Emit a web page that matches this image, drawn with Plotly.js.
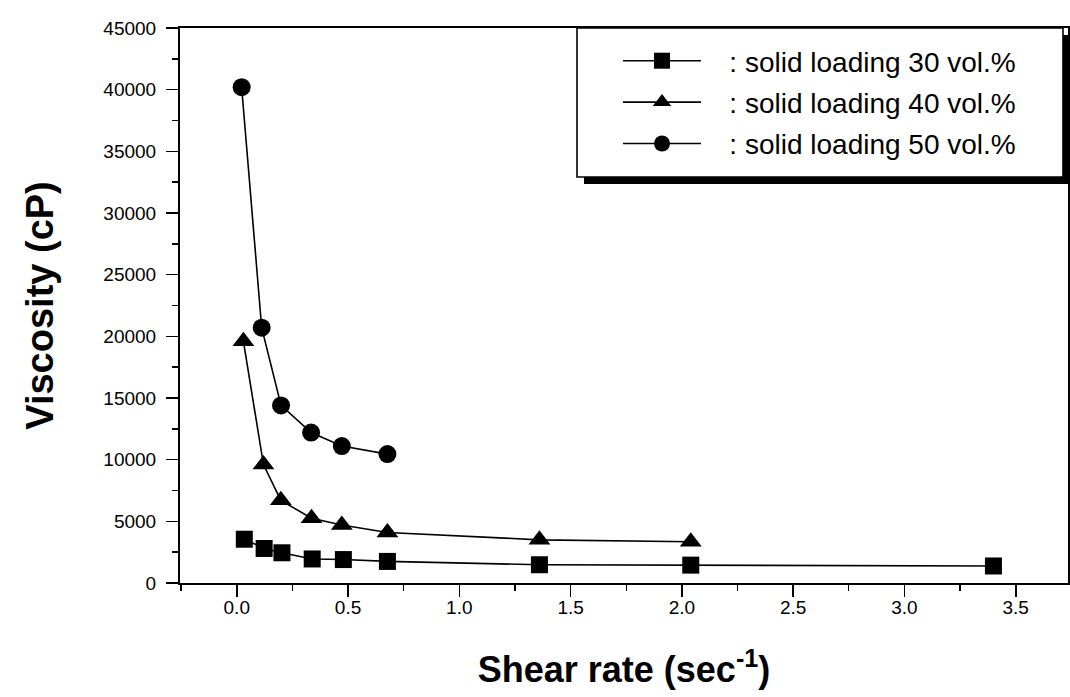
<!DOCTYPE html>
<html>
<head>
<meta charset="utf-8">
<script src="https://cdn.plot.ly/plotly-3.0.1.min.js"></script>
<style>
  html, body { margin: 0; padding: 0; background: #ffffff; }
  #chart { width: 1070px; height: 697px; }
</style>
</head>
<body>
<div id="chart"></div>
<script>
// Shear rate (sec^-1) and viscosity (cP)
const shear30 = [0.034, 0.123, 0.203, 0.339, 0.479, 0.677, 1.36, 2.04, 3.40];
const visc30  = [3550, 2800, 2450, 1950, 1900, 1750, 1480, 1450, 1380];

const shear40 = [0.030, 0.120, 0.198, 0.336, 0.472, 0.677, 1.36, 2.04];
const visc40  = [19600, 9600, 6700, 5250, 4700, 4100, 3500, 3350];

const shear50 = [0.022, 0.112, 0.199, 0.334, 0.472, 0.677];
const visc50  = [40200, 20700, 14400, 12200, 11100, 10450];

const seriesNames = [
  "\u00A0\u00A0\u00A0: solid loading 30 vol.%",
  "\u00A0\u00A0\u00A0: solid loading 40 vol.%",
  "\u00A0\u00A0\u00A0: solid loading 50 vol.%"
];

const xTickVals = [0.0, 0.5, 1.0, 1.5, 2.0, 2.5, 3.0, 3.5];
const xTickText = ["0.0", "0.5", "1.0", "1.5", "2.0", "2.5", "3.0", "3.5"];
const yTickVals = [0, 5000, 10000, 15000, 20000, 25000, 30000, 35000, 40000, 45000];
const yTickText = ["0", "5000", "10000", "15000", "20000", "25000", "30000", "35000", "40000", "45000"];

const FONT = "Liberation Sans, Arial, Helvetica, sans-serif";

const lineStyle = { color: "#000000", width: 1.6 };

const traces = [
  {
    x: shear30, y: visc30, name: seriesNames[0], type: "scatter", mode: "lines+markers",
    legendgroup: "g30",
    line: lineStyle,
    marker: { symbol: "square", size: 17, color: "#000000" }
  },
  {
    x: shear40, y: visc40, name: seriesNames[1], type: "scatter", mode: "lines+markers",
    legendgroup: "g40",
    line: lineStyle,
    marker: { symbol: "triangle-up", size: 19, color: "#000000" }
  },
  {
    x: shear50, y: visc50, name: seriesNames[2], type: "scatter", mode: "lines+markers",
    legendgroup: "g50",
    line: lineStyle,
    marker: { symbol: "circle", size: 18, color: "#000000" }
  }
];

// plot-area pixel frame used to convert legend box placement to paper coords
const L = 180, R = 2, T = 28, B = 114, W = 1070, H = 697;
const pw = W - L - R, ph = H - T - B;
const px = v => (v - L) / pw;
const py = v => (H - B - v) / ph;

const layout = {
  width: W, height: H,
  margin: { l: L, r: R, t: T, b: B },
  paper_bgcolor: "#ffffff",
  plot_bgcolor: "#ffffff",
  font: { family: FONT, color: "#000000", size: 19 },
  showlegend: true,
  legend: {
    x: px(618), y: py(36), xanchor: "left", yanchor: "top",
    bgcolor: "rgba(0,0,0,0)",
    borderwidth: 0,
    font: { family: FONT, size: 28, color: "#000000" },
    traceorder: "grouped",
    tracegroupgap: 2,
    itemwidth: 78
  },
  xaxis: {
    range: [-0.255, 3.735],
    tickvals: xTickVals, ticktext: xTickText,
    ticks: "outside", ticklen: 12, tickwidth: 1.6, tickcolor: "#000000",
    minor: { dtick: 0.25, tick0: 0, ticks: "outside", ticklen: 6, tickwidth: 1.4, tickcolor: "#000000", showgrid: false },
    showline: true, linecolor: "#000000", linewidth: 2, mirror: true,
    showgrid: false, zeroline: false,
    tickfont: { family: FONT, size: 19, color: "#000000" },
    ticklabelstandoff: -6,
    title: { text: "<b>Shear rate (sec<sup>-1</sup>)</b>", font: { family: FONT, size: 36, color: "#000000" }, standoff: 40 },
    automargin: false
  },
  yaxis: {
    range: [0, 45000],
    tickvals: yTickVals, ticktext: yTickText,
    ticks: "outside", ticklen: 12, tickwidth: 1.6, tickcolor: "#000000",
    minor: { dtick: 2500, tick0: 0, ticks: "outside", ticklen: 6, tickwidth: 1.4, tickcolor: "#000000", showgrid: false },
    showline: true, linecolor: "#000000", linewidth: 2, mirror: true,
    showgrid: false, zeroline: false,
    tickfont: { family: FONT, size: 19, color: "#000000" },
    ticklabelstandoff: 6,
    title: { text: "<b>Viscosity (cP)</b>", font: { family: FONT, size: 38, color: "#000000" }, standoff: 38 },
    automargin: false
  },
  shapes: [
    // legend box shadow
    { type: "rect", xref: "paper", yref: "paper", layer: "above",
      x0: px(584), x1: px(1070), y0: py(35), y1: py(184),
      fillcolor: "#000000", line: { width: 0 } },
    // legend box
    { type: "rect", xref: "paper", yref: "paper", layer: "above",
      x0: px(577), x1: px(1063), y0: py(28), y1: py(177),
      fillcolor: "#ffffff", line: { color: "#000000", width: 1.6 } }
  ]
};

Plotly.newPlot("chart", traces, layout, { displayModeBar: false, staticPlot: true });
</script>
</body>
</html>
